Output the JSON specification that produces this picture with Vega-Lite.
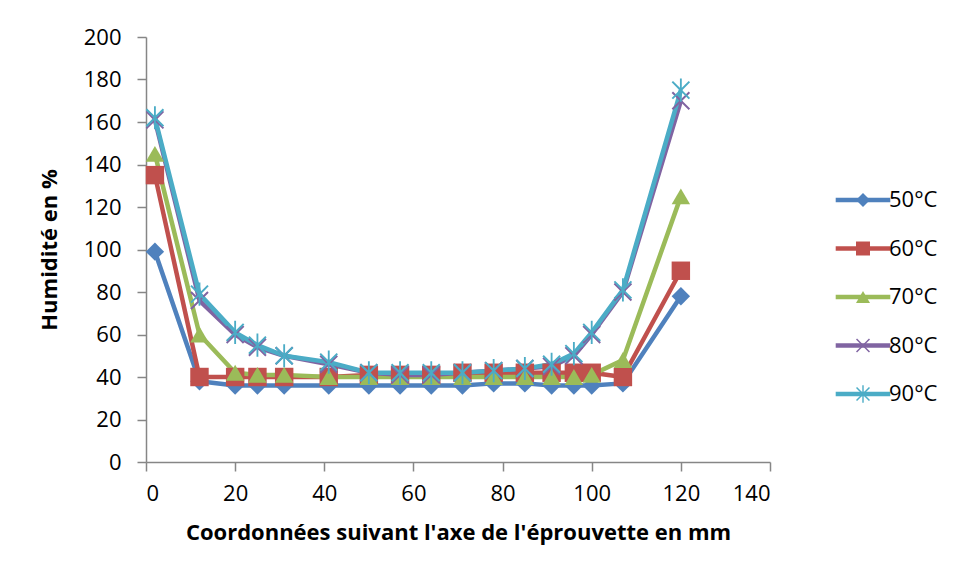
{
  "$schema": "https://vega.github.io/schema/vega-lite/v6.json",
  "autosize": "none",
  "padding": {"left": 146, "top": 37, "right": 185, "bottom": 117},
  "width": 624,
  "height": 425,
  "background": "white",
  "config": {
    "font": "Open Sans",
    "view": {"stroke": null},
    "axis": {
      "grid": false,
      "domainColor": "#868686",
      "tickColor": "#868686",
      "domainWidth": 1.5,
      "tickWidth": 1.5,
      "tickSize": 9,
      "labelFont": "Open Sans",
      "labelFontSize": 22,
      "labelColor": "#000000",
      "titleFont": "Open Sans",
      "titleFontSize": 22,
      "titleFontWeight": "bold",
      "titleColor": "#000000"
    }
  },
  "data": {
    "values": [
      {"s": "50°C", "x": 2, "y": 99}, {"s": "50°C", "x": 12, "y": 38}, {"s": "50°C", "x": 20, "y": 36}, {"s": "50°C", "x": 25, "y": 36}, {"s": "50°C", "x": 31, "y": 36}, {"s": "50°C", "x": 41, "y": 36}, {"s": "50°C", "x": 50, "y": 36}, {"s": "50°C", "x": 57, "y": 36}, {"s": "50°C", "x": 64, "y": 36}, {"s": "50°C", "x": 71, "y": 36}, {"s": "50°C", "x": 78, "y": 37}, {"s": "50°C", "x": 85, "y": 37}, {"s": "50°C", "x": 91, "y": 36}, {"s": "50°C", "x": 96, "y": 36}, {"s": "50°C", "x": 100, "y": 36}, {"s": "50°C", "x": 107, "y": 37}, {"s": "50°C", "x": 120, "y": 78},
      {"s": "60°C", "x": 2, "y": 135}, {"s": "60°C", "x": 12, "y": 40}, {"s": "60°C", "x": 20, "y": 40}, {"s": "60°C", "x": 25, "y": 40}, {"s": "60°C", "x": 31, "y": 40}, {"s": "60°C", "x": 41, "y": 40}, {"s": "60°C", "x": 50, "y": 41}, {"s": "60°C", "x": 57, "y": 41}, {"s": "60°C", "x": 64, "y": 41}, {"s": "60°C", "x": 71, "y": 42}, {"s": "60°C", "x": 78, "y": 42}, {"s": "60°C", "x": 85, "y": 42}, {"s": "60°C", "x": 91, "y": 42}, {"s": "60°C", "x": 96, "y": 42}, {"s": "60°C", "x": 100, "y": 42}, {"s": "60°C", "x": 107, "y": 40}, {"s": "60°C", "x": 120, "y": 90},
      {"s": "70°C", "x": 2, "y": 145}, {"s": "70°C", "x": 12, "y": 60}, {"s": "70°C", "x": 20, "y": 42}, {"s": "70°C", "x": 25, "y": 41}, {"s": "70°C", "x": 31, "y": 41}, {"s": "70°C", "x": 41, "y": 40}, {"s": "70°C", "x": 50, "y": 40}, {"s": "70°C", "x": 57, "y": 40}, {"s": "70°C", "x": 64, "y": 40}, {"s": "70°C", "x": 71, "y": 40}, {"s": "70°C", "x": 78, "y": 40}, {"s": "70°C", "x": 85, "y": 40}, {"s": "70°C", "x": 91, "y": 40}, {"s": "70°C", "x": 96, "y": 40}, {"s": "70°C", "x": 100, "y": 41}, {"s": "70°C", "x": 107, "y": 48}, {"s": "70°C", "x": 120, "y": 125},
      {"s": "80°C", "x": 2, "y": 161}, {"s": "80°C", "x": 12, "y": 76}, {"s": "80°C", "x": 20, "y": 60}, {"s": "80°C", "x": 25, "y": 54}, {"s": "80°C", "x": 31, "y": 50}, {"s": "80°C", "x": 41, "y": 46}, {"s": "80°C", "x": 50, "y": 42}, {"s": "80°C", "x": 57, "y": 41}, {"s": "80°C", "x": 64, "y": 41}, {"s": "80°C", "x": 71, "y": 42}, {"s": "80°C", "x": 78, "y": 43}, {"s": "80°C", "x": 85, "y": 44}, {"s": "80°C", "x": 91, "y": 45}, {"s": "80°C", "x": 96, "y": 50}, {"s": "80°C", "x": 100, "y": 60}, {"s": "80°C", "x": 107, "y": 80}, {"s": "80°C", "x": 120, "y": 170},
      {"s": "90°C", "x": 2, "y": 162}, {"s": "90°C", "x": 12, "y": 79}, {"s": "90°C", "x": 20, "y": 61}, {"s": "90°C", "x": 25, "y": 55}, {"s": "90°C", "x": 31, "y": 50}, {"s": "90°C", "x": 41, "y": 47}, {"s": "90°C", "x": 50, "y": 42}, {"s": "90°C", "x": 57, "y": 42}, {"s": "90°C", "x": 64, "y": 42}, {"s": "90°C", "x": 71, "y": 42}, {"s": "90°C", "x": 78, "y": 43}, {"s": "90°C", "x": 85, "y": 44}, {"s": "90°C", "x": 91, "y": 46}, {"s": "90°C", "x": 96, "y": 51}, {"s": "90°C", "x": 100, "y": 61}, {"s": "90°C", "x": 107, "y": 81}, {"s": "90°C", "x": 120, "y": 175}
    ]
  },
  "encoding": {
    "x": {
      "field": "x", "type": "quantitative",
      "scale": {"domain": [0, 140], "nice": false},
      "axis": {"values": [0, 20, 40, 60, 80, 100, 120, 140], "title": "Coordonnées suivant l'axe de l'éprouvette en mm", "labelPadding": 12, "titlePadding": 18}
    },
    "y": {
      "field": "y", "type": "quantitative",
      "scale": {"domain": [0, 200], "nice": false},
      "axis": {"values": [0, 20, 40, 60, 80, 100, 120, 140, 160, 180, 200], "title": "Humidité en %", "labelPadding": 16, "titlePadding": 22}
    }
  },
  "layer": [
    {
      "mark": {"type": "line", "strokeWidth": 4.5, "strokeJoin": "round"},
      "encoding": {
        "stroke": {
          "field": "s", "type": "nominal",
          "scale": {"domain": ["50°C", "60°C", "70°C", "80°C", "90°C"], "range": ["#4F81BD", "#C0504D", "#9BBB59", "#8064A2", "#4BACC6"]},
          "legend": {
            "title": null,
            "orient": "none",
            "legendX": 706,
            "legendY": 152,
            "padding": 0,
            "labelFontSize": 22,
            "labelFont": "Open Sans",
            "labelColor": "#000000",
            "labelOpacity": 0,
            "symbolType": "M-3.9,0L3.9,0",
            "symbolSize": 196,
            "symbolStrokeWidth": 4.5,
            "labelOffset": 15,
            "rowPadding": 26.5
          }
        }
      }
    },
    {
      "mark": {"type": "point", "filled": true, "opacity": 1, "size": 340, "strokeWidth": 0},
      "encoding": {
        "color": {
          "field": "s", "type": "nominal",
          "scale": {"range": ["#4F81BD", "#C0504D", "#9BBB59", "#8064A2", "#4BACC6"]},
          "legend": {
            "title": null,
            "orient": "none",
            "legendX": 706,
            "legendY": 152,
            "padding": 0,
            "labelFontSize": 22,
            "labelFont": "Open Sans",
            "labelColor": "#000000",
            "symbolSize": 196,
            "symbolStrokeWidth": 0,
            "symbolOpacity": 1,
            "labelOffset": 15,
            "rowPadding": 26.5
          }
        },
        "shape": {
          "field": "s", "type": "nominal",
          "scale": {"range": ["diamond", "square", "triangle-up", "M-1,-0.85L-0.85,-1L0,-0.15L0.85,-1L1,-0.85L0.15,0L1,0.85L0.85,1L0,0.15L-0.85,1L-1,0.85L-0.15,0Z", "M-1,-0.85L-0.85,-1L0,-0.15L0.85,-1L1,-0.85L0.15,0L1,0.85L0.85,1L0,0.15L-0.85,1L-1,0.85L-0.15,0ZM-0.1,-1.25L0.1,-1.25L0.1,1.25L-0.1,1.25Z"]},
          "legend": {
            "title": null,
            "orient": "none",
            "legendX": 706,
            "legendY": 152,
            "padding": 0,
            "labelFontSize": 22,
            "labelFont": "Open Sans",
            "labelColor": "#000000",
            "symbolSize": 196,
            "symbolStrokeWidth": 0,
            "symbolOpacity": 1,
            "labelOffset": 15,
            "rowPadding": 26.5
          }
        }
      }
    }
  ]
}
